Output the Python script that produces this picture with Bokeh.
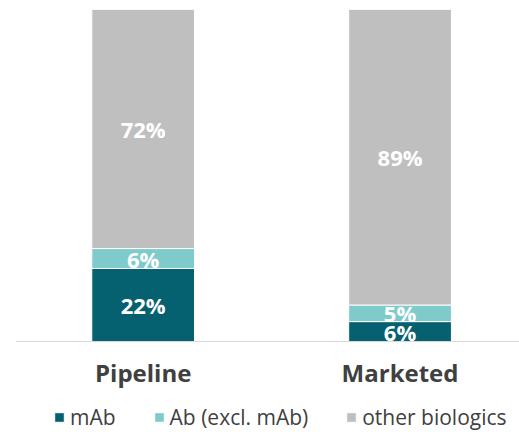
import numpy as np
from bokeh.plotting import figure
from bokeh.models import ColumnDataSource, Range1d, LabelSet, Legend, LegendItem, Span
from bokeh.core.properties import value
from bokeh.embed import file_html
from bokeh.resources import INLINE

categories = ["Pipeline", "Marketed"]
series = ["mAb", "Ab (excl. mAb)", "other biologics"]
mab = [22, 6]
ab_excl = [6, 5]
other = [72, 89]

colors = ["#05616F", "#7FCBCB", "#BFBFBF"]
FONT = "Open Sans"
TXT = "#404040"

xpos = [0.5, 1.5]
data = dict(x=xpos, cat=categories, mab=mab, ab=ab_excl, other=other)
src = ColumnDataSource(data)

p = figure(frame_width=504, frame_height=423, output_backend="svg", toolbar_location=None,
           x_range=Range1d(0.003, 1.965), y_range=Range1d(-27.4, 100),
           min_border_left=15, min_border_right=0, min_border_top=9, min_border_bottom=0)
p.outline_line_color = None
p.grid.visible = False
p.axis.visible = False
p.background_fill_color = "white"

rends = p.vbar_stack(["mab", "ab", "other"], x="x", width=0.40, source=src,
                     color=colors, line_color="white", line_width=1)

# baseline (category axis line)
p.add_layout(Span(location=0, dimension="width", line_color="#D9D9D9", line_width=1))

# category labels under the bars
csrc = ColumnDataSource(dict(x=xpos, y=[0, 0], t=categories))
p.add_layout(LabelSet(x="x", y="y", text="t", source=csrc, y_offset=-31,
                      text_align="center", text_baseline="middle", text_color=TXT,
                      text_font=value(FONT), text_font_style="bold", text_font_size="24px"))

# value labels at segment centres
vals = np.array([mab, ab_excl, other], dtype=float)
cum = np.cumsum(vals, axis=0)
for i in range(3):
    centers = cum[i] - vals[i] / 2
    lsrc = ColumnDataSource(dict(x=xpos, y=list(centers), t=[f"{int(v)}%" for v in vals[i]]))
    p.add_layout(LabelSet(x="x", y="y", text="t", source=lsrc, text_align="center",
                          text_baseline="middle", text_color="white",
                          text_font=value(FONT), text_font_style="bold", text_font_size="22px"))

legend = Legend(items=[LegendItem(label=s, renderers=[r]) for s, r in zip(series, rends)],
                orientation="horizontal", location=(38, 1),
                glyph_width=12, glyph_height=12, label_standoff=5, spacing=37,
                label_text_font=FONT, label_text_font_size="21px", label_text_color=TXT,
                border_line_color=None, background_fill_alpha=0, padding=0, margin=0)
p.add_layout(legend, "center")

open("out.html", "w").write(file_html(p, INLINE))
